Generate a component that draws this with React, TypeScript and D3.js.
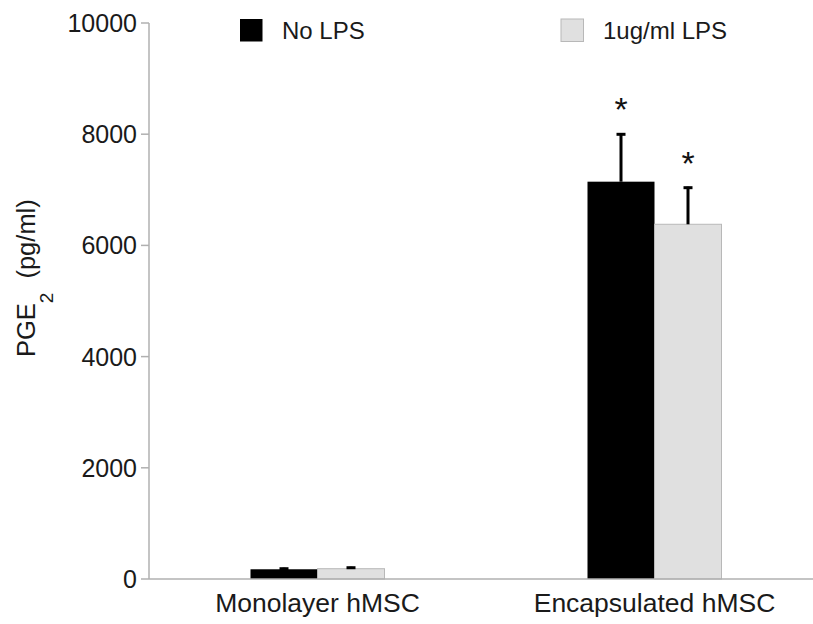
import React from "react";
import * as d3 from "d3";

const categories = ["Monolayer hMSC", "Encapsulated hMSC"];
const seriesNames = ["No LPS", "1ug/ml LPS"];
const noLpsValues = [175, 7146];
const noLpsErrors = [28, 870];
const lpsValues = [185, 6380];
const lpsErrors = [36, 676];
const significant = [[false, false], [true, true]];
const yTicks = [0, 2000, 4000, 6000, 8000, 10000];

const W = 813;
const H = 624;
const FONT = "'Liberation Sans', Arial, Helvetica, sans-serif";
const fills = ["#000000", "#e0e0e0"];
const strokes = ["#000000", "#b8b8b8"];

export default function App() {
  const left = 149;
  const bottom = 579;
  const top = 23;
  const y = d3.scaleLinear().domain([0, 10000]).range([bottom, top]);
  const x0 = d3.scalePoint<string>().domain(categories).range([left, 823]).padding(0.5);
  const x1 = d3.scaleBand<string>().domain(seriesNames).range([-67, 67]);
  const values = [noLpsValues, lpsValues];
  const errors = [noLpsErrors, lpsErrors];

  return (
    <svg width={W} height={H} style={{ position: "absolute", left: 0, top: 0, background: "#fff" }} fontFamily={FONT}>
      <rect x={0} y={0} width={W} height={H} fill="#fff" />
      {/* bars */}
      {categories.map((c, ci) =>
        seriesNames.map((s, si) => {
          const v = values[si][ci];
          const e = errors[si][ci];
          const bx = (x0(c) as number) + (x1(s) as number);
          const bw = x1.bandwidth();
          const cx = bx + bw / 2;
          const yTop = y(v);
          const yErr = y(v + e);
          return (
            <g key={c + s}>
              <rect x={bx} y={yTop} width={bw} height={bottom - yTop} fill={fills[si]} stroke={strokes[si]} strokeWidth={si === 1 ? 1 : 0} />
              <line x1={cx} x2={cx} y1={yTop} y2={yErr} stroke="#000" strokeWidth={3} />
              <line x1={cx - 4.5} x2={cx + 4.5} y1={yErr + 1} y2={yErr + 1} stroke="#000" strokeWidth={3} />
              {significant[ci][si] && (
                <text x={cx} y={yErr - 12} textAnchor="middle" fontSize={34} fill="#111">*</text>
              )}
            </g>
          );
        })
      )}
      {/* y axis */}
      <line x1={left} x2={left} y1={top} y2={bottom} stroke="#b0b0b0" strokeWidth={1.5} />
      {yTicks.map((t) => (
        <g key={t}>
          <line x1={141} x2={left} y1={y(t)} y2={y(t)} stroke="#b0b0b0" strokeWidth={1.5} />
          <text x={137} y={y(t)} dy="0.36em" textAnchor="end" fontSize={25} fill="#1a1a1a">{t}</text>
        </g>
      ))}
      {/* x axis */}
      <line x1={left} x2={W} y1={bottom} y2={bottom} stroke="#b0b0b0" strokeWidth={1.5} />
      {categories.map((c) => (
        <text key={c} x={x0(c) as number} y={612} textAnchor="middle" fontSize={26.5} fill="#1a1a1a">{c}</text>
      ))}
      {/* y label */}
      <text transform={`translate(35,357) rotate(-90)`} fontSize={25.5} fill="#1a1a1a">
        PGE<tspan fontSize={19} dy={18}>2</tspan><tspan dy={-18} dx={14}>(pg/ml)</tspan>
      </text>
      {/* legend */}
      {seriesNames.map((s, si) => {
        const lx = [240, 561][si];
        return (
          <g key={s}>
            <rect x={lx} y={19} width={22.5} height={22.5} fill={fills[si]} stroke={strokes[si]} strokeWidth={si === 1 ? 1 : 0} />
            <text x={lx + 42} y={39} fontSize={24} fill="#1a1a1a">{s}</text>
          </g>
        );
      })}
    </svg>
  );
}
